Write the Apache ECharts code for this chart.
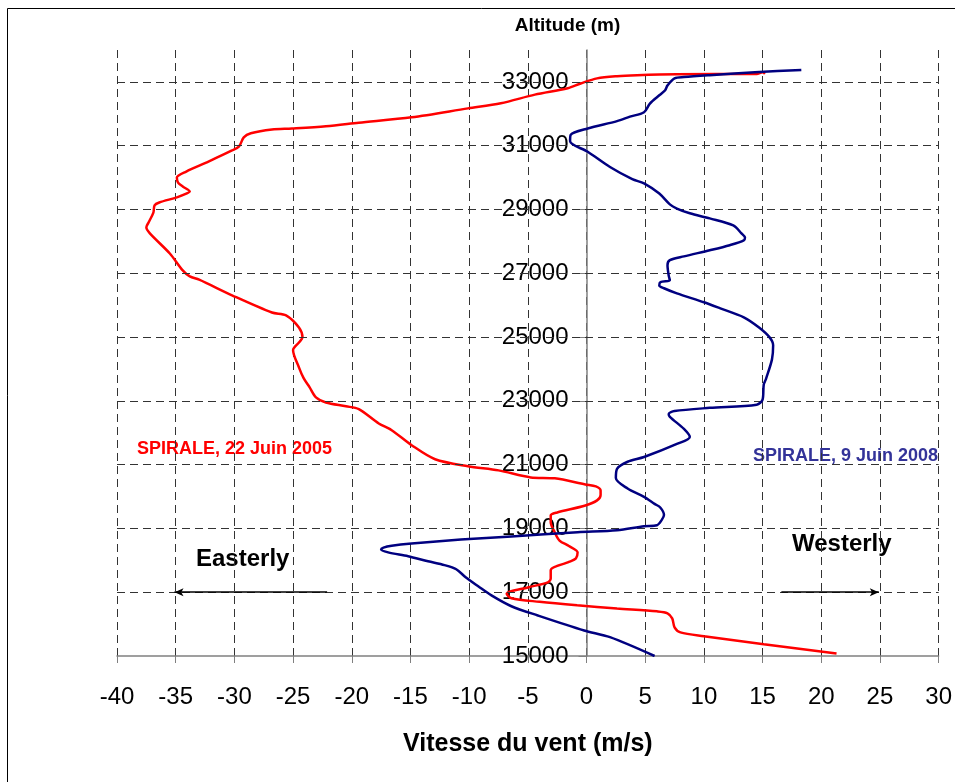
<!DOCTYPE html>
<html>
<head>
<meta charset="utf-8">
<title>Vitesse du vent - SPIRALE</title>
<script src="https://cdn.jsdelivr.net/npm/echarts@6/dist/echarts.min.js"></script>
<style>
  html, body { margin: 0; padding: 0; background: #fff; }
  #windChart { width: 955px; height: 782px; }
</style>
</head>
<body>
<div id="windChart"></div>
<script>
// profils de vent (vitesse en m/s, altitude en m)

var speed2005 = [21.3, 15.1, 10.0, 8.0, 7.5, 7.3, 6.9, 6.0, 2.6, -0.8, -4.0, -6.4, -6.8, -5.0, -3.3, -3.05, -3.05, -1.5, -0.9, -0.76,
    -1.5, -2.3, -2.7, -3.05, -3.05, -2.5, -0.1, 0.9, 1.2, 1.2, 0.8, -0.1, -2.7, -4.75, -7.5, -10.1, -12.9, -14.9, -16.6, -17.7,
    -19.4, -20.5, -22.2, -23.05, -23.6, -24.1, -24.5, -25.0, -24.5, -24.2, -24.5, -25.6, -26.8, -30.2, -33.0, -33.8, -34.4, -35.5, -37.2, -37.5,
    -37.3, -36.9, -36.8, -36.4, -34.9, -34.0, -33.8, -34.4, -34.8, -34.9, -34.1, -32.4, -30.2, -29.6, -29.2, -28.6, -26.8, -25.1, -22.2, -19.4,
    -14.9, -10.1, -7.3, -4.4, -1.6, -0.5, 0.9, 2.6, 4.3, 7.7, 14.5, 15.0, 15.2];
var alt2005 = [15080, 15370, 15620, 15740, 15900, 16180, 16340, 16400, 16490, 16590, 16700, 16810, 16950, 17150, 17310, 17430, 17690, 17950, 18060, 18250,
    18450, 18620, 18870, 19200, 19410, 19500, 19720, 19880, 20050, 20190, 20320, 20380, 20570, 20600, 20820, 20950, 21170, 21610, 22080, 22290,
    22740, 22830, 22950, 23110, 23430, 23710, 24050, 24590, 24830, 24990, 25300, 25680, 25770, 26310, 26800, 26900, 27090, 27620, 28250, 28440,
    28600, 28900, 29130, 29220, 29380, 29510, 29560, 29720, 29840, 30000, 30190, 30470, 30850, 30980, 31260, 31390, 31510, 31540, 31610, 31720,
    31890, 32170, 32330, 32600, 32800, 32950, 33110, 33180, 33210, 33240, 33250, 33300, 33250];

var speed2008 = [5.8, 2.0, -0.2, -4.15, -6.4, -8.1, -9.2, -10.3, -11.1, -12.1, -13.5, -15.2, -16.9, -17.5, -17.3, -16.6, -14.9, -10.7, -6.4, -0.76,
    2.6, 4.9, 6.0, 6.4, 6.6, 6.3, 5.8, 4.9, 3.5, 2.5, 2.6, 3.5, 4.9, 7.7, 8.8, 8.3, 7.1, 7.0, 7.5, 10.5,
    14.5, 15.0, 15.1, 15.3, 15.8, 15.9, 15.6, 14.7, 13.4, 11.4, 10.0, 7.7, 6.6, 6.2, 6.3, 7.1, 7.0, 6.9, 7.1, 8.3,
    10.5, 12.2, 13.4, 13.5, 13.2, 12.5, 10.5, 8.8, 7.7, 7.1, 6.2, 4.9, 3.9, 2.0, 0.1, -1.4, -1.35, 0.1, 2.6, 3.7,
    4.9, 5.4, 6.2, 6.7, 6.9, 7.5, 8.3, 10.5, 14.7, 18.3];
var alt2008 = [15000, 15590, 15800, 16270, 16560, 16900, 17180, 17470, 17720, 17850, 17970, 18130, 18250, 18340, 18400, 18460, 18530, 18650, 18750, 18880,
    18940, 19070, 19100, 19260, 19420, 19650, 19770, 19990, 20250, 20580, 20870, 21090, 21240, 21650, 21870, 22120, 22500, 22590, 22680, 22780,
    22880, 23040, 23510, 23700, 24300, 24740, 24990, 25300, 25620, 25900, 26090, 26370, 26530, 26620, 26720, 26780, 26930, 27250, 27410, 27530,
    27720, 27880, 28030, 28120, 28250, 28500, 28720, 28880, 29030, 29160, 29500, 29820, 29950, 30330, 30810, 31140, 31340, 31540, 31770, 31910,
    32050, 32320, 32580, 32740, 32890, 33110, 33150, 33210, 33310, 33370];

// lignes horizontales de la grille (altitudes)
var gridAltitudes = [17000, 19000, 21000, 23000, 25000, 27000, 29000, 31000, 33000];

// fleches Easterly / Westerly : [debut, fin] en m/s, a 17000 m
var arrowEast = [-22.1, -35.1];
var arrowWest = [16.6, 24.9];
var arrowAlt = 17000;

function zip (xs, ys) {
    var out = [];
    for (var i = 0; i < xs.length; i++) {
        out.push([xs[i], ys[i]]);
    }
    return out;
}

function plain (v) {
    return String(v);
}

var dashed = [8, 5];
var fontNum = 'Liberation Sans, Arial, sans-serif';
var gridLeft = 117;

var option = {
    animation: false,
    backgroundColor: '#fff',
    grid: {
        left: gridLeft,
        right: 12,
        top: 50,
        bottom: 126
    },
    graphic: [
        {
            // cadre de la figure
            type: 'rect',
            left: 5, top: 6,
            shape: { width: 1000, height: 1000 },
            style: { fill: 'none', stroke: '#000', lineWidth: 1 },
            z: -10
        },
        {
            type: 'text', left: 137, top: 440,
            style: { text: 'SPIRALE, 22 Juin 2005', fill: '#ff0000', font: 'bold 18px ' + fontNum }
        },
        {
            type: 'text', left: 753, top: 447,
            style: { text: 'SPIRALE, 9 Juin 2008', fill: '#333399', font: 'bold 18px ' + fontNum }
        },
        {
            type: 'text', left: 196, top: 547,
            style: { text: 'Easterly', fill: '#000', font: 'bold 24px ' + fontNum }
        },
        {
            type: 'text', left: 792, top: 532,
            style: { text: 'Westerly', fill: '#000', font: 'bold 24px ' + fontNum }
        }
    ],
    xAxis: {
        type: 'value',
        min: -40,
        max: 30,
        interval: 5,
        name: 'Vitesse du vent (m/s)',
        nameLocation: 'middle',
        nameGap: 76,
        nameTextStyle: { fontFamily: fontNum, fontWeight: 'bold', fontSize: 25, color: '#000' },
        axisLine: { onZero: false, lineStyle: { color: '#808080', width: 1.5 } },
        axisTick: { length: 7, lineStyle: { color: '#808080' } },
        axisLabel: { margin: 29, fontFamily: fontNum, fontSize: 24, color: '#000', formatter: plain },
        splitLine: { show: true, lineStyle: { type: dashed, color: '#333', width: 1 } }
    },
    yAxis: {
        type: 'value',
        min: 15000,
        max: 34000,
        interval: 2000,
        offset: 0,
        name: 'Altitude (m)',
        nameLocation: 'end',
        nameGap: 15,
        nameTextStyle: { fontFamily: fontNum, fontWeight: 'bold', fontSize: 19, color: '#000', padding: [0, 38, 0, 0] },
        axisLine: { show: true, onZero: false, lineStyle: { color: '#808080', width: 1.5 } },
        axisTick: { show: true, length: 8, lineStyle: { color: '#808080' } },
        axisLabel: { margin: 18, fontFamily: fontNum, fontSize: 24, color: '#000', showMaxLabel: false, formatter: plain },
        splitLine: { show: false }
    },
    series: [
        {
            // grille horizontale en pointilles
            name: 'grille',
            type: 'line',
            data: [],
            z: 1,
            silent: true,
            markLine: {
                silent: true,
                symbol: ['none', 'none'],
                label: { show: false },
                lineStyle: { type: dashed, color: '#333', width: 1 },
                data: gridAltitudes.map(function (a) { return { yAxis: a }; })
            }
        },
        {
            name: 'fleches',
            type: 'line',
            data: [],
            z: 3,
            silent: true,
            markLine: {
                silent: true,
                symbol: ['none', 'arrow'],
                symbolSize: [6, 9],
                label: { show: false },
                lineStyle: { type: 'solid', color: '#000', width: 1.5 },
                data: [
                    [{ coord: [arrowEast[0], arrowAlt] }, { coord: [arrowEast[1], arrowAlt] }],
                    [{ coord: [arrowWest[0], arrowAlt] }, { coord: [arrowWest[1], arrowAlt] }]
                ]
            }
        },
        {
            name: 'SPIRALE, 22 Juin 2005',
            type: 'line',
            data: zip(speed2005, alt2005),
            showSymbol: false,
            smooth: 0.3,
            z: 4,
            lineStyle: { color: '#ff0000', width: 2.5 },
            itemStyle: { color: '#ff0000' }
        },
        {
            name: 'SPIRALE, 9 Juin 2008',
            type: 'line',
            data: zip(speed2008, alt2008),
            showSymbol: false,
            smooth: 0.3,
            z: 5,
            lineStyle: { color: '#000080', width: 2.5 },
            itemStyle: { color: '#000080' }
        }
    ]
};

var myChart = echarts.init(document.getElementById('windChart'));
myChart.setOption(option);

// placer l'axe des altitudes sur la vitesse 0
var x0 = myChart.convertToPixel({ xAxisIndex: 0 }, 0);
myChart.setOption({ yAxis: { offset: gridLeft - x0 } });
</script>
</body>
</html>
